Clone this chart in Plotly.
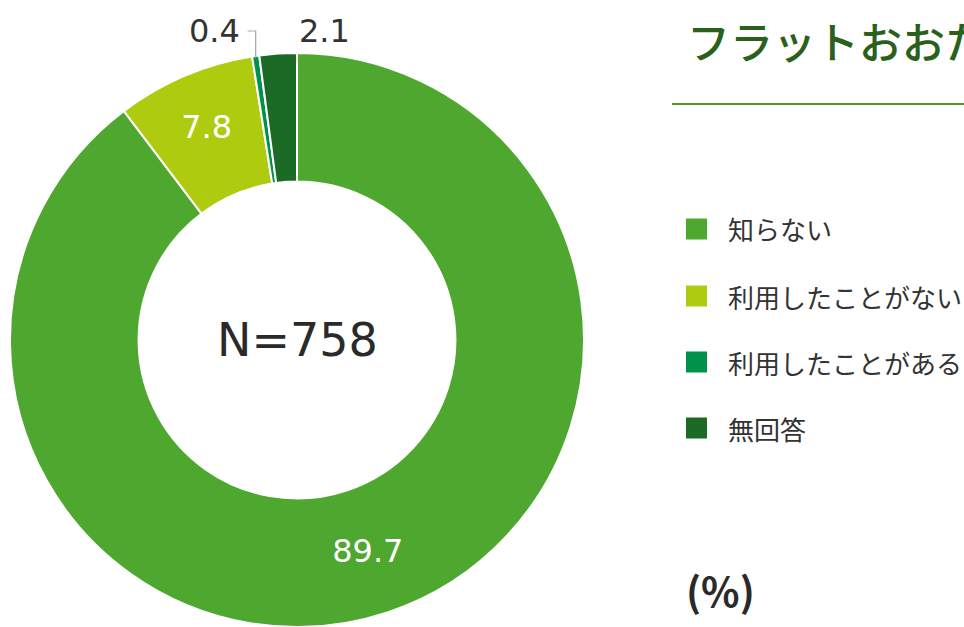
import math
import plotly.graph_objects as go

categories = ["知らない", "利用したことがない", "利用したことがある", "無回答"]
values = [89.7, 7.8, 0.4, 2.1]
colors = ["#4EA72E", "#AFCB0F", "#00924A", "#1B6B26"]
inside_label = [True, True, False, False]
title_text = "フラットおおたの利用状況"
center_text = "N=758"
unit_text = "(%)"

W, H = 964, 627
LATIN = "DejaVu Sans, Noto Sans CJK JP, sans-serif"
CJK = "Noto Sans CJK JP, sans-serif"

# donut geometry (pixels)
CX, CY, R = 297, 340, 287

def px(x):
    return x / W

def py(y):
    return 1 - y / H

fig = go.Figure()
fig.add_trace(go.Pie(
    labels=categories,
    values=values,
    text=[f"{v:.1f}" for v in values],
    textinfo="text",
    textposition=["inside" if s else "none" for s in inside_label],
    insidetextorientation="horizontal",
    sort=False,
    direction="clockwise",
    rotation=0,
    hole=0.552,
    automargin=False,
    marker=dict(colors=colors, line=dict(color="white", width=2)),
    insidetextfont=dict(color="white", size=32, family=LATIN),
    domain=dict(x=[px(CX - R), px(CX + R)], y=[py(CY + R), py(CY - R)]),
    showlegend=False,
    hoverinfo="label+value",
))

annotations = [
    dict(x=px(CX), y=py(CY), xref="paper", yref="paper", text=center_text,
         showarrow=False, font=dict(size=46, color="#2A2A2A", family=LATIN),
         xanchor="center", yanchor="middle"),
    dict(x=px(685), y=py(40), xref="paper", yref="paper", text=title_text,
         showarrow=False, font=dict(size=43, color="#2B5F1C", family=CJK, weight=500),
         xanchor="left", yanchor="middle"),
    dict(x=px(684), y=py(590), xref="paper", yref="paper", text="<b>" + unit_text + "</b>",
         showarrow=False, font=dict(size=40, color="#2A2A2A", family=CJK),
         xanchor="left", yanchor="middle"),
]
shapes = [
    dict(type="line", xref="paper", yref="paper", x0=px(672), x1=1.0,
         y0=py(104), y1=py(104), line=dict(color="#4D9A2A", width=2)),
]

# outside labels for the small slices, placed from each slice's mid-angle
total = sum(values)
cum = 0.0
label_y = 31
for i, v in enumerate(values):
    mid = (cum + v / 2) / total
    cum += v
    if inside_label[i]:
        continue
    th = 2 * math.pi * mid
    ex = CX + R * math.sin(th)
    ey = CY - R * math.cos(th)
    if v < 1:
        # elbow leader line: label to the left
        shapes.append(dict(type="path", xref="paper", yref="paper",
                           path=f"M {px(ex - 8)},{py(label_y)} L {px(ex)},{py(label_y)} L {px(ex)},{py(ey + 2)}",
                           line=dict(color="#A6A6A6", width=1.2)))
        annotations.append(dict(x=px(ex - 14), y=py(label_y), xref="paper", yref="paper",
                                text=f"{v:.1f}", showarrow=False, xanchor="right", yanchor="middle",
                                font=dict(size=32, color="#333333", family=LATIN)))
    else:
        annotations.append(dict(x=px(ex + 19), y=py(label_y), xref="paper", yref="paper",
                                text=f"{v:.1f}", showarrow=False, xanchor="left", yanchor="middle",
                                font=dict(size=32, color="#333333", family=LATIN)))

row_y = [229, 296, 362, 428]
for cat, col, ry in zip(categories, colors, row_y):
    shapes.append(dict(type="rect", xref="paper", yref="paper",
                       x0=px(686), x1=px(707), y0=py(ry + 10.5), y1=py(ry - 10.5),
                       fillcolor=col, line=dict(width=0)))
    annotations.append(dict(x=px(726), y=py(ry), xref="paper", yref="paper", text=cat,
                            showarrow=False, font=dict(size=26, color="#333333", family=CJK),
                            xanchor="left", yanchor="middle"))

fig.update_layout(
    width=W, height=H,
    margin=dict(l=0, r=0, t=0, b=0, pad=0, autoexpand=False),
    paper_bgcolor="white",
    plot_bgcolor="white",
    annotations=annotations,
    shapes=shapes,
    font=dict(family=LATIN),
)

fig.write_html("out.html", config={"displayModeBar": False},
               post_script="document.body.style.margin='0px';document.body.style.overflow='hidden';")
